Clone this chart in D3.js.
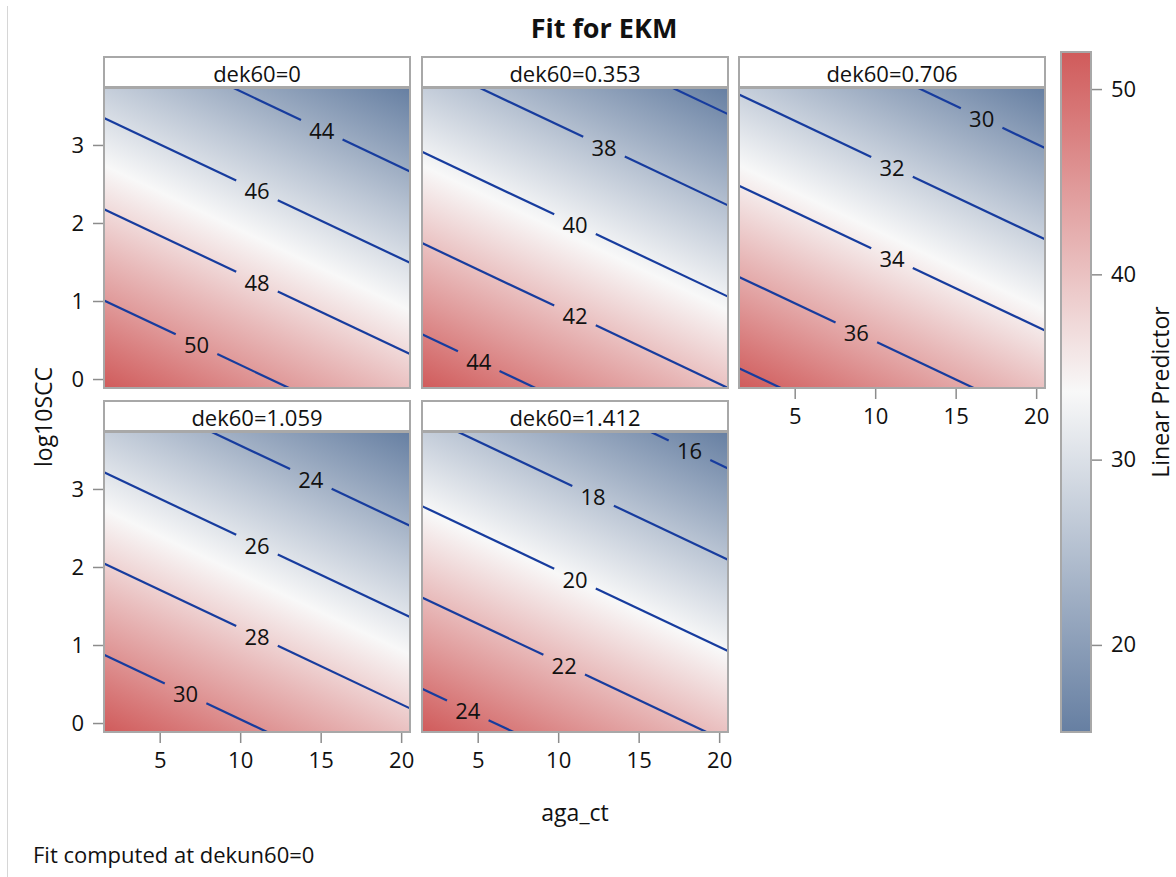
<!DOCTYPE html>
<html>
<head>
<meta charset="utf-8">
<script src="https://cdn.jsdelivr.net/npm/d3@7"></script>
<style>
  body { margin: 0; background: #fff; }
  svg { display: block; font-family: "Open Sans", sans-serif; }
</style>
</head>
<body>
<svg id="chart" width="1176" height="877"></svg>
<script>
// panels (one per dek60 value)
const panelDek = [0, 0.353, 0.706, 1.059, 1.412];
const panelLabels = ["dek60=0", "dek60=0.353", "dek60=0.706", "dek60=1.059", "dek60=1.412"];

// fitted linear predictor
const fitTerms = ["Intercept", "dek60", "aga_ct", "log10SCC"];
const fitEstimates = [51.98, -19.1, -0.167, -1.71];

// contour levels drawn in each panel
const contourLevels = [
  [44, 46, 48, 50],
  [36, 38, 40, 42, 44],
  [30, 32, 34, 36, 38],
  [24, 26, 28, 30],
  [16, 18, 20, 22, 24]
];

const xRange = [1.54, 20.55];
const yRange = [-0.115, 3.73];
const xTicks = [5, 10, 15, 20];
const yTicks = [0, 1, 2, 3];
const legendRange = [15.3, 52.0];
const legendTicks = [20, 30, 40, 50];

const rampColors = ["#667FA2", "#F8F8F8", "#D05B5B"];

const colX = [104, 422, 739];
const rowY = [57, 401];
const headerH = 31, plotW = 306, plotH = 300;
const frameColor = "#a8a8a8";
const lineColor = "#173c9e";

const svg = d3.select("#chart");
const defs = svg.append("defs");

// left page border
svg.append("line")
  .attr("x1", 7.5).attr("x2", 7.5).attr("y1", 6).attr("y2", 877)
  .attr("stroke", "#d6d6d6").attr("stroke-width", 1);

svg.append("text")
  .attr("x", 604).attr("y", 38)
  .attr("text-anchor", "middle")
  .attr("font-size", 27).attr("font-weight", "bold").attr("fill", "#111")
  .text("Fit for EKM");

function predict(dek, x, y) {
  return fitEstimates[0] + fitEstimates[1] * dek + fitEstimates[2] * x + fitEstimates[3] * y;
}

// where a contour level crosses the panel edges (it is a straight line)
function contourEnds(level, dek) {
  const pts = [];
  const base = fitEstimates[0] + fitEstimates[1] * dek;
  xRange.forEach(x => {
    const y = (level - base - fitEstimates[2] * x) / fitEstimates[3];
    if (y >= yRange[0] && y <= yRange[1]) pts.push([x, y]);
  });
  yRange.forEach(y => {
    const x = (level - base - fitEstimates[3] * y) / fitEstimates[2];
    if (x > xRange[0] && x < xRange[1]) pts.push([x, y]);
  });
  return pts.slice(0, 2);
}

panelDek.forEach((dek, i) => {
  const col = i % 3, row = Math.floor(i / 3);
  const left = colX[col];
  const top = rowY[row] + headerH;

  const x = d3.scaleLinear().domain(xRange).range([left, left + plotW]);
  const y = d3.scaleLinear().domain(yRange).range([top + plotH, top]);

  // colour ramp scaled to this panel's own min / max
  const corners = [];
  xRange.forEach(cx => yRange.forEach(cy => corners.push({px: x(cx), py: y(cy), v: predict(dek, cx, cy)})));
  const vMin = d3.min(corners, d => d.v), vMax = d3.max(corners, d => d.v);
  const color = d3.scaleLinear()
    .domain([vMin, (vMin + vMax) / 2, vMax])
    .range(rampColors);

  const lo = corners.find(d => d.v === vMin);
  const gx = fitEstimates[2] * (x.invert(1) - x.invert(0));
  const gy = fitEstimates[3] * (y.invert(1) - y.invert(0));
  const g2 = gx * gx + gy * gy;
  const span = vMax - vMin;

  const grad = defs.append("linearGradient")
    .attr("id", "grad" + i)
    .attr("gradientUnits", "userSpaceOnUse")
    .attr("x1", lo.px).attr("y1", lo.py)
    .attr("x2", lo.px + gx * span / g2).attr("y2", lo.py + gy * span / g2);
  grad.selectAll("stop")
    .data(d3.range(0, 1.0001, 0.1))
    .join("stop")
    .attr("offset", d => d)
    .attr("stop-color", d => color(vMin + d * span));

  const g = svg.append("g");

  g.append("rect")
    .attr("x", left).attr("y", top)
    .attr("width", plotW).attr("height", plotH)
    .attr("fill", `url(#grad${i})`);

  // contours
  contourLevels[i].forEach(level => {
    const ends = contourEnds(level, dek);
    if (ends.length < 2) return;
    const p0 = [x(ends[0][0]), y(ends[0][1])];
    const p1 = [x(ends[1][0]), y(ends[1][1])];
    const len = Math.hypot(p1[0] - p0[0], p1[1] - p0[1]);
    const u = [(p1[0] - p0[0]) / len, (p1[1] - p0[1]) / len];
    const m = [(p0[0] + p1[0]) / 2, (p0[1] + p1[1]) / 2];
    const segs = [];
    if (len > 70) {
      const gap = 23;
      segs.push([p0, [m[0] - u[0] * gap, m[1] - u[1] * gap]]);
      segs.push([[m[0] + u[0] * gap, m[1] + u[1] * gap], p1]);
      g.append("text")
        .attr("x", m[0]).attr("y", m[1])
        .attr("text-anchor", "middle")
        .attr("dominant-baseline", "central")
        .attr("font-size", 22).attr("fill", "#111")
        .text(level);
    } else {
      segs.push([p0, p1]);
    }
    segs.forEach(s => {
      g.append("line")
        .attr("x1", s[0][0]).attr("y1", s[0][1])
        .attr("x2", s[1][0]).attr("y2", s[1][1])
        .attr("stroke", lineColor).attr("stroke-width", 2.2);
    });
  });

  // frame and header strip
  g.append("rect")
    .attr("x", left).attr("y", top)
    .attr("width", plotW).attr("height", plotH)
    .attr("fill", "none").attr("stroke", frameColor).attr("stroke-width", 2);
  g.append("rect")
    .attr("x", left).attr("y", rowY[row])
    .attr("width", plotW).attr("height", headerH - 1)
    .attr("fill", "#fff").attr("stroke", frameColor).attr("stroke-width", 2);
  g.append("text")
    .attr("x", left + plotW / 2).attr("y", rowY[row] + headerH / 2)
    .attr("text-anchor", "middle")
    .attr("dominant-baseline", "central")
    .attr("font-size", 22).attr("fill", "#111")
    .text(panelLabels[i]);

  // axes
  if (col === 0) {
    const ax = svg.append("g")
      .attr("transform", `translate(${left - 1},0)`)
      .call(d3.axisLeft(y).tickValues(yTicks).tickFormat(d3.format("d")).tickSize(10).tickPadding(9));
    styleAxis(ax);
  }
  const isBottom = (i + 3 >= panelDek.length);
  if (isBottom) {
    const ax = svg.append("g")
      .attr("transform", `translate(0,${top + plotH + 1})`)
      .call(d3.axisBottom(x).tickValues(xTicks).tickFormat(d3.format("d")).tickSize(10).tickPadding(9));
    styleAxis(ax);
  }
});

function styleAxis(ax) {
  ax.select(".domain").remove();
  ax.selectAll(".tick line").attr("stroke", "#8c8c8c").attr("stroke-width", 1.5);
  ax.selectAll(".tick text")
    .attr("font-size", 22)
    .attr("font-family", "'Open Sans', sans-serif")
    .attr("fill", "#111");
}

// axis titles
svg.append("text")
  .attr("transform", "translate(43,417) rotate(-90)")
  .attr("text-anchor", "middle")
  .attr("dominant-baseline", "central")
  .attr("font-size", 23).attr("fill", "#111")
  .text("log10SCC");

svg.append("text")
  .attr("x", 575).attr("y", 821)
  .attr("text-anchor", "middle")
  .attr("font-size", 23).attr("fill", "#111")
  .text("aga_ct");

svg.append("text")
  .attr("x", 33).attr("y", 863)
  .attr("font-size", 22).attr("fill", "#111")
  .text("Fit computed at dekun60=0");

// colour legend
const legendTop = 52, legendBottom = 732, legendX = 1061, legendW = 30;
const legendScale = d3.scaleLinear().domain(legendRange).range([legendBottom, legendTop]);
const legendColor = d3.scaleLinear()
  .domain([legendRange[0], (legendRange[0] + legendRange[1]) / 2, legendRange[1]])
  .range(rampColors);

const lg = defs.append("linearGradient")
  .attr("id", "legendGrad")
  .attr("x1", "0%").attr("y1", "100%")
  .attr("x2", "0%").attr("y2", "0%");
lg.selectAll("stop")
  .data(d3.range(0, 1.0001, 0.1))
  .join("stop")
  .attr("offset", d => d)
  .attr("stop-color", d => legendColor(legendRange[0] + d * (legendRange[1] - legendRange[0])));

svg.append("rect")
  .attr("x", legendX).attr("y", legendTop)
  .attr("width", legendW).attr("height", legendBottom - legendTop)
  .attr("fill", "url(#legendGrad)")
  .attr("stroke", frameColor).attr("stroke-width", 2);

const lax = svg.append("g")
  .attr("transform", `translate(${legendX + legendW + 1},0)`)
  .call(d3.axisRight(legendScale).tickValues(legendTicks).tickSize(10).tickPadding(9));
styleAxis(lax);

svg.append("text")
  .attr("transform", "translate(1160,392) rotate(-90)")
  .attr("text-anchor", "middle")
  .attr("dominant-baseline", "central")
  .attr("font-size", 23).attr("fill", "#111")
  .text("Linear Predictor");
</script>
</body>
</html>
